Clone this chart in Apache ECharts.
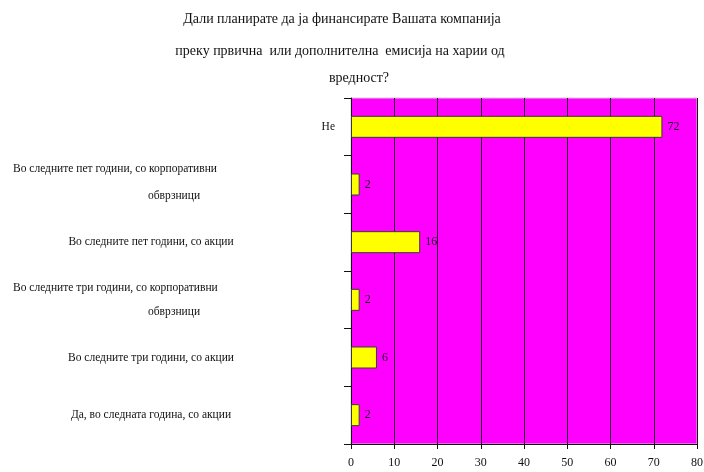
<!DOCTYPE html>
<html>
<head>
<meta charset="utf-8">
<script src="https://cdn.jsdelivr.net/npm/echarts@6/dist/echarts.min.js"></script>
<style>
  html, body { margin: 0; padding: 0; background: #fff; }
  #chart { width: 704px; height: 472px; }
</style>
</head>
<body>
<div id="chart"></div>
<script>
// Survey answers, listed top to bottom
const answers = [
  'Не',
  'Во следните пет години, со корпоративни\nобврзници',
  'Во следните пет години, со акции',
  'Во следните три години, со корпоративни\nобврзници',
  'Во следните три години, со акции',
  'Да, во следната година, со акции'
];
const counts = [72, 2, 16, 2, 6, 2];
const tickValues = [0, 10, 20, 30, 40, 50, 60, 70, 80];
const titleLines = [
  'Дали планирате да ја финансирате Вашата компанија',
  'преку првична  или дополнителна  емисија на харии од',
  'вредност?'
];

const serif = '"Liberation Serif", "DejaVu Serif", serif';
const inkColor = '#1a0a24';

// Wrapped answers: first line starts at the left, second line centred beneath
function answerLabel(text, idx) {
  if (idx === 0) return text;
  const lines = text.split('\n');
  if (lines.length === 1) return '{one|' + lines[0] + '}';
  const lh = idx === 1 ? 'a' : 'b';
  return '{l' + lh + '|' + lines[0] + '}\n{c' + lh + '|' + lines[1] + '}';
}

const titleX = [337, 335, 354];
const titleY = [7, 39, 66];
const titles = titleLines.map((t, i) => ({
  text: t,
  left: titleX[i],
  top: titleY[i],
  textAlign: 'center',
  textStyle: {
    fontFamily: serif,
    fontWeight: 'normal',
    fontSize: 14,
    color: '#111'
  }
}));

const labelFont = { fontFamily: serif, fontSize: 11.5, color: '#111' };

const chart = echarts.init(document.getElementById('chart'));
chart.setOption({
  animation: false,
  backgroundColor: '#ffffff',
  title: titles,
  grid: {
    left: 351,
    right: 7,
    top: 98,
    bottom: 28,
    outerBoundsMode: 'none',
    containLabel: false,
    show: true,
    backgroundColor: '#ff00ff',
    borderColor: '#cfcfcf',
    borderWidth: 1
  },
  xAxis: {
    type: 'value',
    min: tickValues[0],
    max: tickValues[tickValues.length - 1],
    interval: 10,
    axisLine: { show: true, lineStyle: { color: '#111', width: 1 } },
    axisTick: { show: true, length: 5, lineStyle: { color: '#111' } },
    splitLine: { show: true, lineStyle: { color: '#2b0a30', width: 1 } },
    axisLabel: {
      margin: 13,
      fontFamily: serif,
      fontSize: 12,
      color: '#111'
    }
  },
  yAxis: {
    type: 'category',
    inverse: true,
    data: answers,
    axisLine: { show: true, lineStyle: { color: '#111', width: 1 } },
    axisTick: { show: true, length: 7, lineStyle: { color: '#111' } },
    axisLabel: Object.assign({
      interval: 0,
      margin: 16,
      align: 'right',
      formatter: answerLabel,
      rich: {
        one: Object.assign({ width: 368, align: 'center' }, labelFont),
        la: Object.assign({ width: 322, align: 'left', lineHeight: 32 }, labelFont),
        ca: Object.assign({ width: 322, align: 'center', lineHeight: 32, padding: [0, 0, 10, 0] }, labelFont),
        lb: Object.assign({ width: 322, align: 'left', lineHeight: 24 }, labelFont),
        cb: Object.assign({ width: 322, align: 'center', lineHeight: 24 }, labelFont)
      }
    }, labelFont)
  },
  series: [{
    type: 'bar',
    data: counts,
    barWidth: 22,
    itemStyle: { color: '#ffff00', borderColor: '#3a3a3a', borderWidth: 1 },
    label: {
      show: true,
      position: 'right',
      distance: 5,
      fontFamily: serif,
      fontSize: 12,
      color: inkColor
    }
  }]
});
</script>
</body>
</html>
